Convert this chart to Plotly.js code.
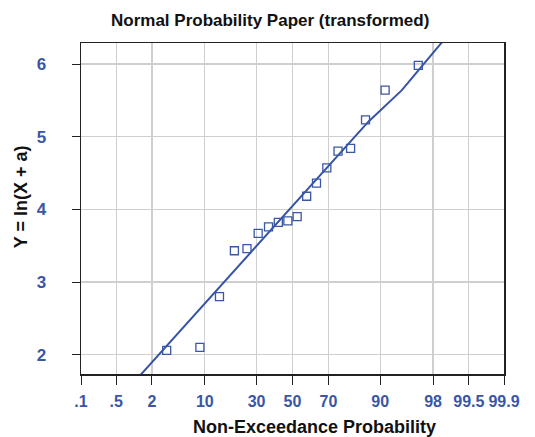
<!DOCTYPE html>
<html>
<head>
<meta charset="utf-8">
<script src="https://cdn.plot.ly/plotly-3.0.1.min.js"></script>
<style>html,body{margin:0;padding:0;background:#fff;}#chart{width:535px;height:437px;}</style>
</head>
<body>
<div id="chart"></div>
<script>
// Observed points: non-exceedance probability (%) and transformed value Y
const pointProb = [3.3, 8.8, 14.3, 19.8, 25.3, 30.8, 36.3, 41.8, 47.3, 52.7, 58.2, 63.7, 69.2, 74.7, 80.2, 85.7, 91.2, 96.7];
const pointY    = [2.06, 2.10, 2.80, 3.43, 3.46, 3.67, 3.76, 3.82, 3.84, 3.90, 4.18, 4.36, 4.57, 4.80, 4.84, 5.23, 5.64, 5.98];

// Fitted line (probability %, Y)
const lineProb = [1, 50, 86.7, 94.5, 99];
const lineY    = [1.61, 4.04, 5.21, 5.64, 6.46];

// Axis ticks
const tickProb  = [0.1, 0.5, 2, 10, 30, 50, 70, 90, 98, 99.5, 99.9];
const tickLabel = [".1", ".5", "2", "10", "30", "50", "70", "90", "98", "99.5", "99.9"];
const yTicks = [2, 3, 4, 5, 6];

// inverse standard normal CDF (Acklam)
function norminv(p) {
  const a = [-3.969683028665376e+01, 2.209460984245205e+02, -2.759285104469687e+02, 1.383577518672690e+02, -3.066479806614716e+01, 2.506628277459239e+00];
  const b = [-5.447609879822406e+01, 1.615858368580409e+02, -1.556989798598866e+02, 6.680131188771972e+01, -1.328068155288572e+01];
  const c = [-7.784894002430293e-03, -3.223964580411365e-01, -2.400758277161838e+00, -2.549732539343734e+00, 4.374664141464968e+00, 2.938163982698783e+00];
  const d = [7.784695709041462e-03, 3.224671290700398e-01, 2.445134137142996e+00, 3.754408661907416e+00];
  const pl = 0.02425, ph = 1 - pl;
  let q, r;
  if (p < pl) {
    q = Math.sqrt(-2 * Math.log(p));
    return (((((c[0]*q+c[1])*q+c[2])*q+c[3])*q+c[4])*q+c[5]) / ((((d[0]*q+d[1])*q+d[2])*q+d[3])*q+1);
  } else if (p <= ph) {
    q = p - 0.5; r = q*q;
    return (((((a[0]*r+a[1])*r+a[2])*r+a[3])*r+a[4])*r+a[5])*q / (((((b[0]*r+b[1])*r+b[2])*r+b[3])*r+b[4])*r+1);
  } else {
    q = Math.sqrt(-2 * Math.log(1 - p));
    return -(((((c[0]*q+c[1])*q+c[2])*q+c[3])*q+c[4])*q+c[5]) / ((((d[0]*q+d[1])*q+d[2])*q+d[3])*q+1);
  }
}
const z = arr => arr.map(v => norminv(v / 100));

const blue = '#3a56a6';
const font = 'Liberation Sans, Arial, sans-serif';

const traces = [
  {x: z(lineProb), y: lineY, mode: 'lines', line: {color: '#3654a5', width: 2}, hoverinfo: 'skip'},
  {x: z(pointProb), y: pointY, mode: 'markers',
   marker: {symbol: 'square-open', size: 8, color: blue, line: {width: 1.3, color: blue}}}
];

const layout = {
  width: 535, height: 437,
  margin: {l: 81, r: 31, t: 43, b: 63},
  paper_bgcolor: '#fff', plot_bgcolor: '#fff',
  showlegend: false,
  font: {family: font},
  title: {text: '<b>Normal Probability Paper (transformed)</b>', font: {size: 17, color: '#111', family: font},
          x: 0.505, xref: 'container', xanchor: 'center', y: 0.953, yref: 'container', yanchor: 'middle'},
  xaxis: {
    range: [norminv(0.001), norminv(0.999)],
    tickvals: z(tickProb), ticktext: tickLabel,
    tickfont: {size: 16, color: blue, family: font, weight: 'bold'},
    ticks: 'outside', ticklen: 9, tickwidth: 1, tickcolor: '#222',
    showgrid: true, gridcolor: '#cfcfcf', gridwidth: 1.3,
    showline: true, mirror: true, linecolor: '#222', linewidth: 1.5,
    zeroline: false, ticklabelstandoff: 3
  },
  yaxis: {
    range: [1.734, 6.289],
    tickvals: yTicks,
    tickfont: {size: 17, color: blue, family: font, weight: 'bold'},
    ticks: 'outside', ticklen: 8, tickwidth: 1, tickcolor: '#222',
    showgrid: true, gridcolor: '#cfcfcf', gridwidth: 1.3,
    showline: true, mirror: true, linecolor: '#222', linewidth: 1.5,
    zeroline: false, ticklabelstandoff: 22
  },
  annotations: [
    {text: '<b>Non-Exceedance Probability</b>', xref: 'paper', yref: 'paper', x: 0.551, y: -0.159,
     xanchor: 'center', yanchor: 'middle', showarrow: false, font: {size: 18, color: '#111', family: font}},
    {text: '<b>Y = ln(X + a)</b>', xref: 'paper', yref: 'paper', x: -0.141, y: 0.535, textangle: -90,
     xanchor: 'center', yanchor: 'middle', showarrow: false, font: {size: 18, color: '#111', family: font}}
  ]
};

Plotly.newPlot('chart', traces, layout, {displayModeBar: false, staticPlot: true});
</script>
</body>
</html>
